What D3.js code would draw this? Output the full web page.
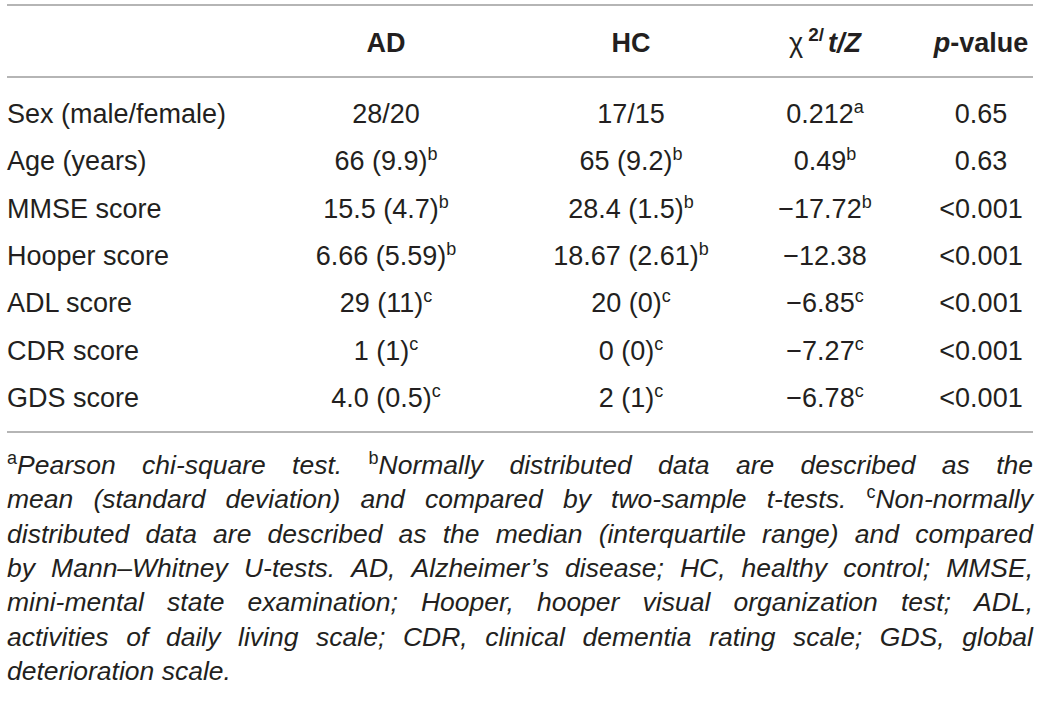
<!DOCTYPE html>
<html>
<head>
<meta charset="utf-8">
<script src="https://cdn.jsdelivr.net/npm/d3@7"></script>
<style>
  html, body { margin: 0; padding: 0; background: #fff; }
  svg { display: block; }
  text { font-family: "Liberation Sans", Arial, Helvetica, sans-serif; fill: #231f20; }
</style>
</head>
<body>
<svg id="chart" width="1041" height="705"></svg>
<script>
// ---- Data ----
const columns = ["label", "AD", "HC", "stat", "p"];
const rowLabels = ["Sex (male/female)", "Age (years)", "MMSE score", "Hooper score", "ADL score", "CDR score", "GDS score"];
const adValues = ["28/20", "66 (9.9)", "15.5 (4.7)", "6.66 (5.59)", "29 (11)", "1 (1)", "4.0 (0.5)"];
const adNotes = ["", "b", "b", "b", "c", "c", "c"];
const hcValues = ["17/15", "65 (9.2)", "28.4 (1.5)", "18.67 (2.61)", "20 (0)", "0 (0)", "2 (1)"];
const hcNotes = ["", "b", "b", "b", "c", "c", "c"];
const statValues = ["0.212", "0.49", "\u221217.72", "\u221212.38", "\u22126.85", "\u22127.27", "\u22126.78"];
const statNotes = ["a", "b", "b", "", "c", "c", "c"];
const pValues = ["0.65", "0.63", "<0.001", "<0.001", "<0.001", "<0.001", "<0.001"];
const footnoteLines = [
  "^aPearson chi-square test. ^bNormally distributed data are described as the",
  "mean (standard deviation) and compared by two-sample t-tests. ^cNon-normally",
  "distributed data are described as the median (interquartile range) and compared",
  "by Mann\u2013Whitney U-tests. AD, Alzheimer\u2019s disease; HC, healthy control; MMSE,",
  "mini-mental state examination; Hooper, hooper visual organization test; ADL,",
  "activities of daily living scale; CDR, clinical dementia rating scale; GDS, global",
  "deterioration scale."
];

// ---- Layout ----
const left = 7, right = 1033;
const svg = d3.select("#chart");

const x = d3.scaleOrdinal()
  .domain(columns)
  .range([left, 386, 631, 825, 981]);
const y = d3.scalePoint().domain(rowLabels).range([123, 407]);
const headerY = 52;
const fontSize = 27;
const supSize = 18;

const ruleColor = "#9d9d9d";
[5, 77, 432].forEach(ly => {
  svg.append("line").attr("x1", left).attr("x2", right).attr("y1", ly).attr("y2", ly)
    .attr("stroke", ruleColor).attr("stroke-width", 1.6);
});

// Header
const hdr = svg.append("g").attr("font-size", fontSize).attr("font-weight", "bold");
hdr.append("text").attr("x", x("AD")).attr("y", headerY).attr("text-anchor", "middle").text("AD");
hdr.append("text").attr("x", x("HC")).attr("y", headerY).attr("text-anchor", "middle").text("HC");
const st = hdr.append("text").attr("x", x("stat")).attr("y", headerY).attr("text-anchor", "middle");
st.append("tspan").attr("font-weight", "normal").text("\u03c7");
st.append("tspan").attr("font-size", 19).attr("dy", -11).attr("dx", 5).text("2/");
st.append("tspan").attr("dy", 11).attr("dx", 4).attr("font-style", "italic").text("t/Z");
const pv = hdr.append("text").attr("x", x("p")).attr("y", headerY).attr("text-anchor", "middle");
pv.append("tspan").attr("font-style", "italic").text("p");
pv.append("tspan").text("-value");

// Body
const body = svg.append("g").attr("font-size", fontSize);
function cell(col, row, val, note) {
  const t = body.append("text").attr("x", x(col)).attr("y", y(row))
    .attr("text-anchor", col === "label" ? "start" : "middle");
  t.append("tspan").text(val);
  if (note) t.append("tspan").attr("font-size", supSize).attr("dy", -10).text(note);
}
rowLabels.forEach((r, i) => {
  cell("label", r, r, "");
  cell("AD", r, adValues[i], adNotes[i]);
  cell("HC", r, hcValues[i], hcNotes[i]);
  cell("stat", r, statValues[i], statNotes[i]);
  cell("p", r, pValues[i], "");
});

// Footnotes (justified)
const fnSize = 26.5;
const fnY = d3.scalePoint().domain(d3.range(footnoteLines.length)).range([474, 680]);
const fn = svg.append("g").attr("font-size", fnSize).attr("font-style", "italic");
footnoteLines.forEach((line, li) => {
  const words = line.split(" ");
  const nodes = words.map(w => {
    const t = fn.append("text").attr("y", fnY(li));
    const m = w.match(/^\^([a-z])(.*)$/);
    if (m) {
      t.append("tspan").attr("font-style", "normal").attr("font-size", 18).attr("dy", -10).text(m[1]);
      t.append("tspan").attr("dy", 10).text(m[2]);
    } else {
      t.text(w);
    }
    return t;
  });
  const widths = nodes.map(n => n.node().getComputedTextLength());
  const total = d3.sum(widths);
  const last = li === footnoteLines.length - 1;
  const gap = last ? fnSize * 0.278 : (right - left - total) / (words.length - 1);
  let cx = left;
  nodes.forEach((n, i) => { n.attr("x", cx); cx += widths[i] + gap; });
});
</script>
</body>
</html>
